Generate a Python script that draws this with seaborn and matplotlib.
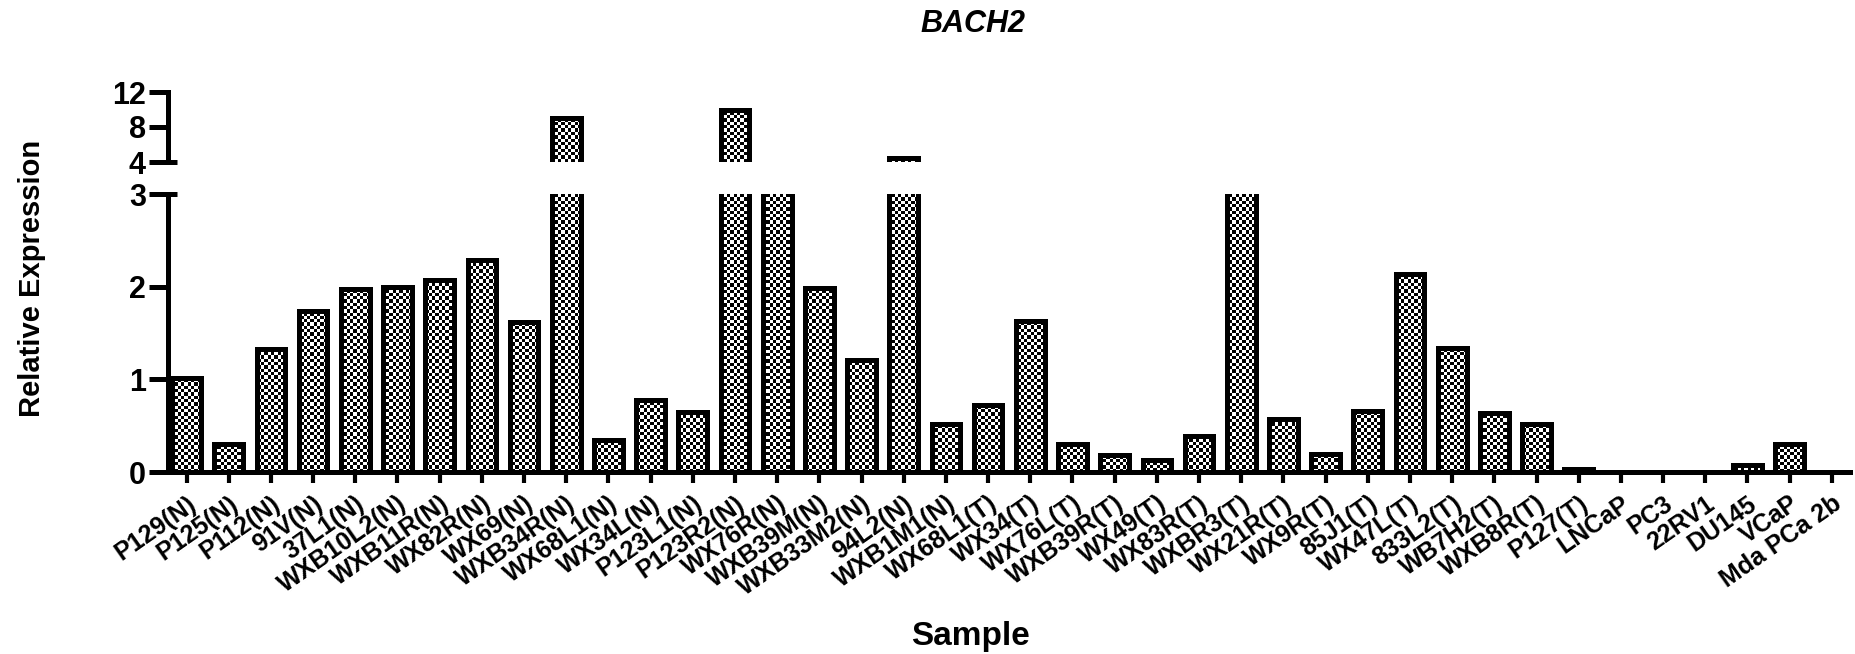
import numpy as np
import pandas as pd
import matplotlib
matplotlib.use("Agg")
import matplotlib.pyplot as plt
import seaborn as sns

samples = ["P129(N)", "P125(N)", "P112(N)", "91V(N)", "37L1(N)", "WXB10L2(N)",
           "WXB11R(N)", "WX82R(N)", "WX69(N)", "WXB34R(N)", "WX68L1(N)", "WX34L(N)",
           "P123L1(N)", "P123R2(N)", "WX76R(N)", "WXB39M(N)", "WXB33M2(N)", "94L2(N)",
           "WXB1M1(N)", "WX68L1(T)", "WX34(T)", "WX76L(T)", "WXB39R(T)", "WX49(T)",
           "WX83R(T)", "WXBR3(T)", "WX21R(T)", "WX9R(T)", "85J1(T)", "WX47L(T)",
           "833L2(T)", "WB7H2(T)", "WXB8R(T)", "P127(T)", "LNCaP", "PC3", "22RV1",
           "DU145", "VCaP", "Mda PCa 2b"]
expression = [1.01, 0.30, 1.33, 1.74, 1.97, 2.00,
              2.07, 2.29, 1.62, 9.0, 0.34, 0.78,
              0.65, 10.0, 3.6, 1.99, 1.21, 4.45,
              0.52, 0.72, 1.63, 0.30, 0.18, 0.13,
              0.39, 3.6, 0.57, 0.19, 0.66, 2.14,
              1.34, 0.64, 0.52, 0.03, 0.0, 0.0, 0.0,
              0.08, 0.30, 0.0]
low_ticks = [0, 1, 2, 3]
high_ticks = [4, 8, 12]

sns.set_theme(style="white")
plt.rcParams["font.family"] = ["Liberation Sans", "DejaVu Sans"]
for k in ("text.color", "axes.labelcolor", "xtick.color", "ytick.color", "axes.edgecolor"):
    plt.rcParams[k] = "black"

W, H = 1856, 654
fig = plt.figure(figsize=(W / 100, H / 100), dpi=100)
left, right = 168 / W, 1850 / W
ax_lo = fig.add_axes([left, 1 - 472 / H, right - left, (472 - 194) / H])
ax_hi = fig.add_axes([left, 1 - 162 / H, right - left, (162 - 92) / H])

df = pd.DataFrame({"Sample": samples, "Expression": expression})
LW = 3.6
xlim = (-0.44, len(samples) - 1 + 0.43)

for ax, ylim, ticks, px_h in ((ax_lo, (0, 3), low_ticks, 278), (ax_hi, (4, 12), high_ticks, 70)):
    sns.barplot(data=df, x="Sample", y="Expression", ax=ax, color="white",
                edgecolor="black", linewidth=LW, width=0.68, saturation=1, zorder=3)
    ax.set_xlim(*xlim)
    ax.set_ylim(*ylim)
    # checkerboard texture inside the bars
    cell = 3.3
    nx = int(1682 / cell)
    ny = max(int(px_h / cell), 2)
    ii, jj = np.meshgrid(np.arange(nx), np.arange(ny))
    checker = ((ii + jj) % 2).astype(float)
    for p in list(ax.patches):
        p.set_facecolor("none")
        im = ax.imshow(checker, extent=(xlim[0], xlim[1], ylim[0], ylim[1]),
                       aspect="auto", origin="lower", cmap="gray",
                       interpolation="nearest", zorder=2, vmin=0, vmax=1)
        im.set_clip_path(p)
    ax.set_xlim(*xlim)
    ax.set_ylim(*ylim)
    ax.set_yticks(ticks)
    ax.set_yticklabels([str(t) for t in ticks], fontsize=22, fontweight="bold")
    ax.tick_params(axis="y", left=True, direction="out", length=14, width=LW, pad=2)
    for s in ("top", "right"):
        ax.spines[s].set_visible(False)
    ax.spines["left"].set_linewidth(LW)
    ax.set_xlabel("")
    ax.set_ylabel("")

# break caps
tr_lo = ax_lo.get_yaxis_transform()
ax_lo.plot([0, 0.0055], [3, 3], transform=tr_lo, color="black", lw=LW, clip_on=False,
           solid_capstyle="butt")
tr_hi = ax_hi.get_yaxis_transform()
ax_hi.plot([0, 0.0055], [4, 4], transform=tr_hi, color="black", lw=LW, clip_on=False,
           solid_capstyle="butt")

ax_hi.spines["bottom"].set_visible(False)
ax_hi.set_xticks([])

ax_lo.spines["bottom"].set_linewidth(LW)
ax_lo.tick_params(axis="x", bottom=True, direction="out", length=8, width=3.0, pad=6)
ax_lo.set_xticks(range(len(samples)))
ax_lo.set_xticklabels(samples, rotation=35, ha="right", rotation_mode="anchor",
                      fontsize=18, fontweight="bold")

fig.text(973 / W, 1 - 24 / H, "BACH2", ha="center", va="center", fontsize=22,
         fontweight="bold", fontstyle="italic")
fig.text(32 / W, 1 - 278 / H, "Relative Expression", ha="center", va="center",
         rotation=90, fontsize=21, fontweight="bold")
fig.text(970 / W, 1 - 636 / H, "Sample", ha="center", va="center", fontsize=24,
         fontweight="bold")

fig.savefig("out.png", dpi=100, facecolor="white")
